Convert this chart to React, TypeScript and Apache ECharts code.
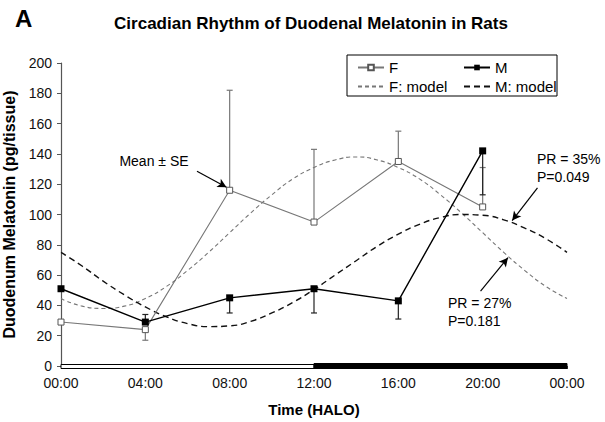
import React, { useEffect, useRef } from "react";
import * as echarts from "echarts";

const sampleHours = [0, 4, 8, 12, 16, 20];
const femaleMean = [29, 24, 116, 95, 135, 105];
const maleMean = [51, 29, 45, 51, 43, 142];
const femaleSeEnd = [null, 17, 182, 143, 155, 131];
const maleSeEnd = [null, 34, 35, 35, 31, 113];

const modelHours = [0, 1, 2, 3, 4, 5, 6, 7, 8, 9, 10, 11, 12, 13, 14, 15, 16, 17, 18, 19, 20, 21, 22, 23, 24];
const femaleModel = [44.5, 39.5, 38, 39.5, 44.5, 52.5, 63, 75, 88, 101, 113, 123.5, 131, 136, 138, 136, 131, 123.5, 113, 101, 88, 75, 63, 52.5, 44.5];
const maleModel = [75, 66, 56, 47, 39, 32.5, 28, 26, 26.5, 29.5, 35, 42, 50.5, 60, 69.5, 79, 87, 93.5, 98, 100, 99.5, 96.5, 91, 84, 75];

// [start hour, end hour, 0 = light / 1 = dark]
const phaseBands = [
  [0, 12, 0],
  [12, 24, 1],
];

const xTicks = [0, 4, 8, 12, 16, 20, 24];
const xTickLabels = ["00:00", "04:00", "08:00", "12:00", "16:00", "20:00", "00:00"];

const FONT = "'Liberation Sans', Arial, Helvetica, sans-serif";

function seData(mean: number[], ends: (number | null)[]) {
  const out: number[][] = [];
  sampleHours.forEach((h, i) => {
    const e = ends[i];
    if (e != null) out.push([h, mean[i], e]);
  });
  return out;
}

function errorRender(color: string) {
  return (params: any, api: any) => {
    const x = api.value(0);
    const p0 = api.coord([x, api.value(1)]);
    const p1 = api.coord([x, api.value(2)]);
    return {
      type: "group",
      children: [
        { type: "line", shape: { x1: p0[0], y1: p0[1], x2: p1[0], y2: p1[1] }, style: { stroke: color, lineWidth: 1.2 } },
        { type: "line", shape: { x1: p1[0] - 3, y1: p1[1], x2: p1[0] + 3, y2: p1[1] }, style: { stroke: color, lineWidth: 1.2 } },
      ],
    };
  };
}

export default function App() {
  const ref = useRef<HTMLDivElement>(null);
  useEffect(() => {
    if (!ref.current) return;
    const chart = echarts.init(ref.current, undefined, { renderer: "svg" });
    const toPairs = (xs: number[], ys: number[]) => xs.map((x, i) => [x, ys[i]]);
    const legendText = { fontFamily: FONT, fontSize: 15, color: "#000" };
    chart.setOption({
      animation: false,
      backgroundColor: "#fff",
      textStyle: { fontFamily: FONT },
      grid: { left: 61, right: 38, top: 63, bottom: 56, outerBoundsMode: "none" },
      xAxis: {
        type: "value",
        min: 0,
        max: 24,
        interval: 4,
        name: "Time (HALO)",
        nameLocation: "middle",
        nameGap: 36,
        nameTextStyle: { fontFamily: FONT, fontWeight: "bold", fontSize: 15, color: "#000" },
        axisLine: { show: false },
        axisTick: { show: true, length: 3, lineStyle: { color: "#444" } },
        splitLine: { show: false },
        axisLabel: {
          fontFamily: FONT,
          fontSize: 14,
          color: "#111",
          margin: 10,
          formatter: (v: number) => xTickLabels[xTicks.indexOf(v)] ?? "",
        },
      },
      yAxis: {
        type: "value",
        min: 0,
        max: 200,
        interval: 20,
        name: "Duodenum Melatonin (pg/tissue)",
        nameLocation: "middle",
        nameGap: 28,
        nameTextStyle: { fontFamily: FONT, fontWeight: "bold", fontSize: 16, color: "#000" },
        axisLine: { show: true, lineStyle: { color: "#555", width: 1.2 } },
        axisTick: { show: true, length: 4, inside: false, lineStyle: { color: "#555" } },
        splitLine: { show: false },
        axisLabel: { fontFamily: FONT, fontSize: 14, color: "#111", margin: 9 },
      },
      legend: [
        {
          data: [
            { name: "F" },
            { name: "F: model", itemStyle: { opacity: 0 } },
          ],
          orient: "vertical",
          left: 352,
          top: 55,
          itemGap: 4,
          itemWidth: 26,
          itemHeight: 7,
          textStyle: legendText,
        },
        {
          data: [
            { name: "M" },
            { name: "M: model", itemStyle: { opacity: 0 } },
          ],
          orient: "vertical",
          left: 458,
          top: 55,
          itemGap: 4,
          itemWidth: 26,
          itemHeight: 7,
          textStyle: legendText,
        },
      ],
      graphic: [
        { type: "text", left: 15, top: 6, style: { text: "A", font: `bold 24px ${FONT}`, fill: "#000" } },
        { type: "text", x: 311, y: 23, style: { text: "Circadian Rhythm of Duodenal Melatonin in Rats", font: `bold 17px ${FONT}`, fill: "#000", align: "center", verticalAlign: "middle" } },
        { type: "rect", shape: { x: 347, y: 55, width: 210, height: 41 }, style: { fill: "none", stroke: "#000", lineWidth: 1 }, z: 10 },
        { type: "text", x: 154, y: 161, style: { text: "Mean ± SE", font: `14px ${FONT}`, fill: "#000", align: "center", verticalAlign: "middle" } },
        { type: "text", x: 537, y: 150, style: { text: "PR = 35%\nP=0.049", font: `14px ${FONT}`, lineHeight: 18, fill: "#000" } },
        { type: "text", x: 448, y: 294, style: { text: "PR = 27%\nP=0.181", font: `14px ${FONT}`, lineHeight: 18, fill: "#000" } },
      ],
      series: [
        {
          type: "custom",
          name: "phase",
          clip: false,
          silent: true,
          encode: { x: [0, 1], y: 2 },
          data: phaseBands,
          renderItem: (params: any, api: any) => {
            const s = api.coord([api.value(0), 0]);
            const e = api.coord([api.value(1), 0]);
            const dark = api.value(2) === 1;
            return {
              type: "rect",
              shape: { x: s[0], y: s[1] - (dark ? 2.5 : 1.5), width: e[0] - s[0], height: dark ? 5 : 4 },
              style: { fill: dark ? "#000" : "#fff", stroke: "#000", lineWidth: 1 },
            };
          },
          z: 1,
        },
        {
          name: "F: model",
          type: "line",
          data: toPairs(modelHours, femaleModel),
          smooth: true,
          showSymbol: false,
          symbol: "none",
          color: "#777",
          lineStyle: { color: "#777", width: 1.1, type: [4, 3] },
          z: 2,
        },
        {
          name: "M: model",
          type: "line",
          data: toPairs(modelHours, maleModel),
          smooth: true,
          showSymbol: false,
          symbol: "none",
          color: "#000",
          lineStyle: { color: "#111", width: 1.4, type: [6, 4] },
          z: 2,
          markLine: {
            silent: true,
            symbol: ["none", "arrow"],
            symbolSize: [7, 9],
            label: { show: false },
            lineStyle: { color: "#000", width: 1.2, type: "solid" },
            data: [
              [{ coord: [6.45, 128.5] }, { coord: [7.85, 118] }],
              [{ coord: [22.6, 117.5] }, { coord: [21.4, 96] }],
              [{ coord: [19.9, 49.5] }, { coord: [21.2, 71.5] }],
            ],
          },
        },
        {
          type: "custom",
          name: "F SE",
          silent: true,
          encode: { x: 0, y: [1, 2] },
          data: seData(femaleMean, femaleSeEnd),
          renderItem: errorRender("#777"),
          z: 3,
        },
        {
          type: "custom",
          name: "M SE",
          silent: true,
          encode: { x: 0, y: [1, 2] },
          data: seData(maleMean, maleSeEnd),
          renderItem: errorRender("#222"),
          z: 3,
        },
        {
          name: "F",
          type: "line",
          data: toPairs(sampleHours, femaleMean),
          symbol: "rect",
          symbolSize: 6,
          color: "#666",
          lineStyle: { color: "#777", width: 1.1 },
          itemStyle: { color: "#fff", borderColor: "#555", borderWidth: 1 },
          z: 4,
        },
        {
          name: "M",
          type: "line",
          data: toPairs(sampleHours, maleMean),
          symbol: "rect",
          symbolSize: 7,
          color: "#000",
          lineStyle: { color: "#000", width: 1.4 },
          itemStyle: { color: "#000" },
          z: 5,
        },
      ],
    });
    return () => chart.dispose();
  }, []);
  return <div ref={ref} style={{ position: "fixed", left: 0, top: 0, width: 605, height: 422 }} />;
}
